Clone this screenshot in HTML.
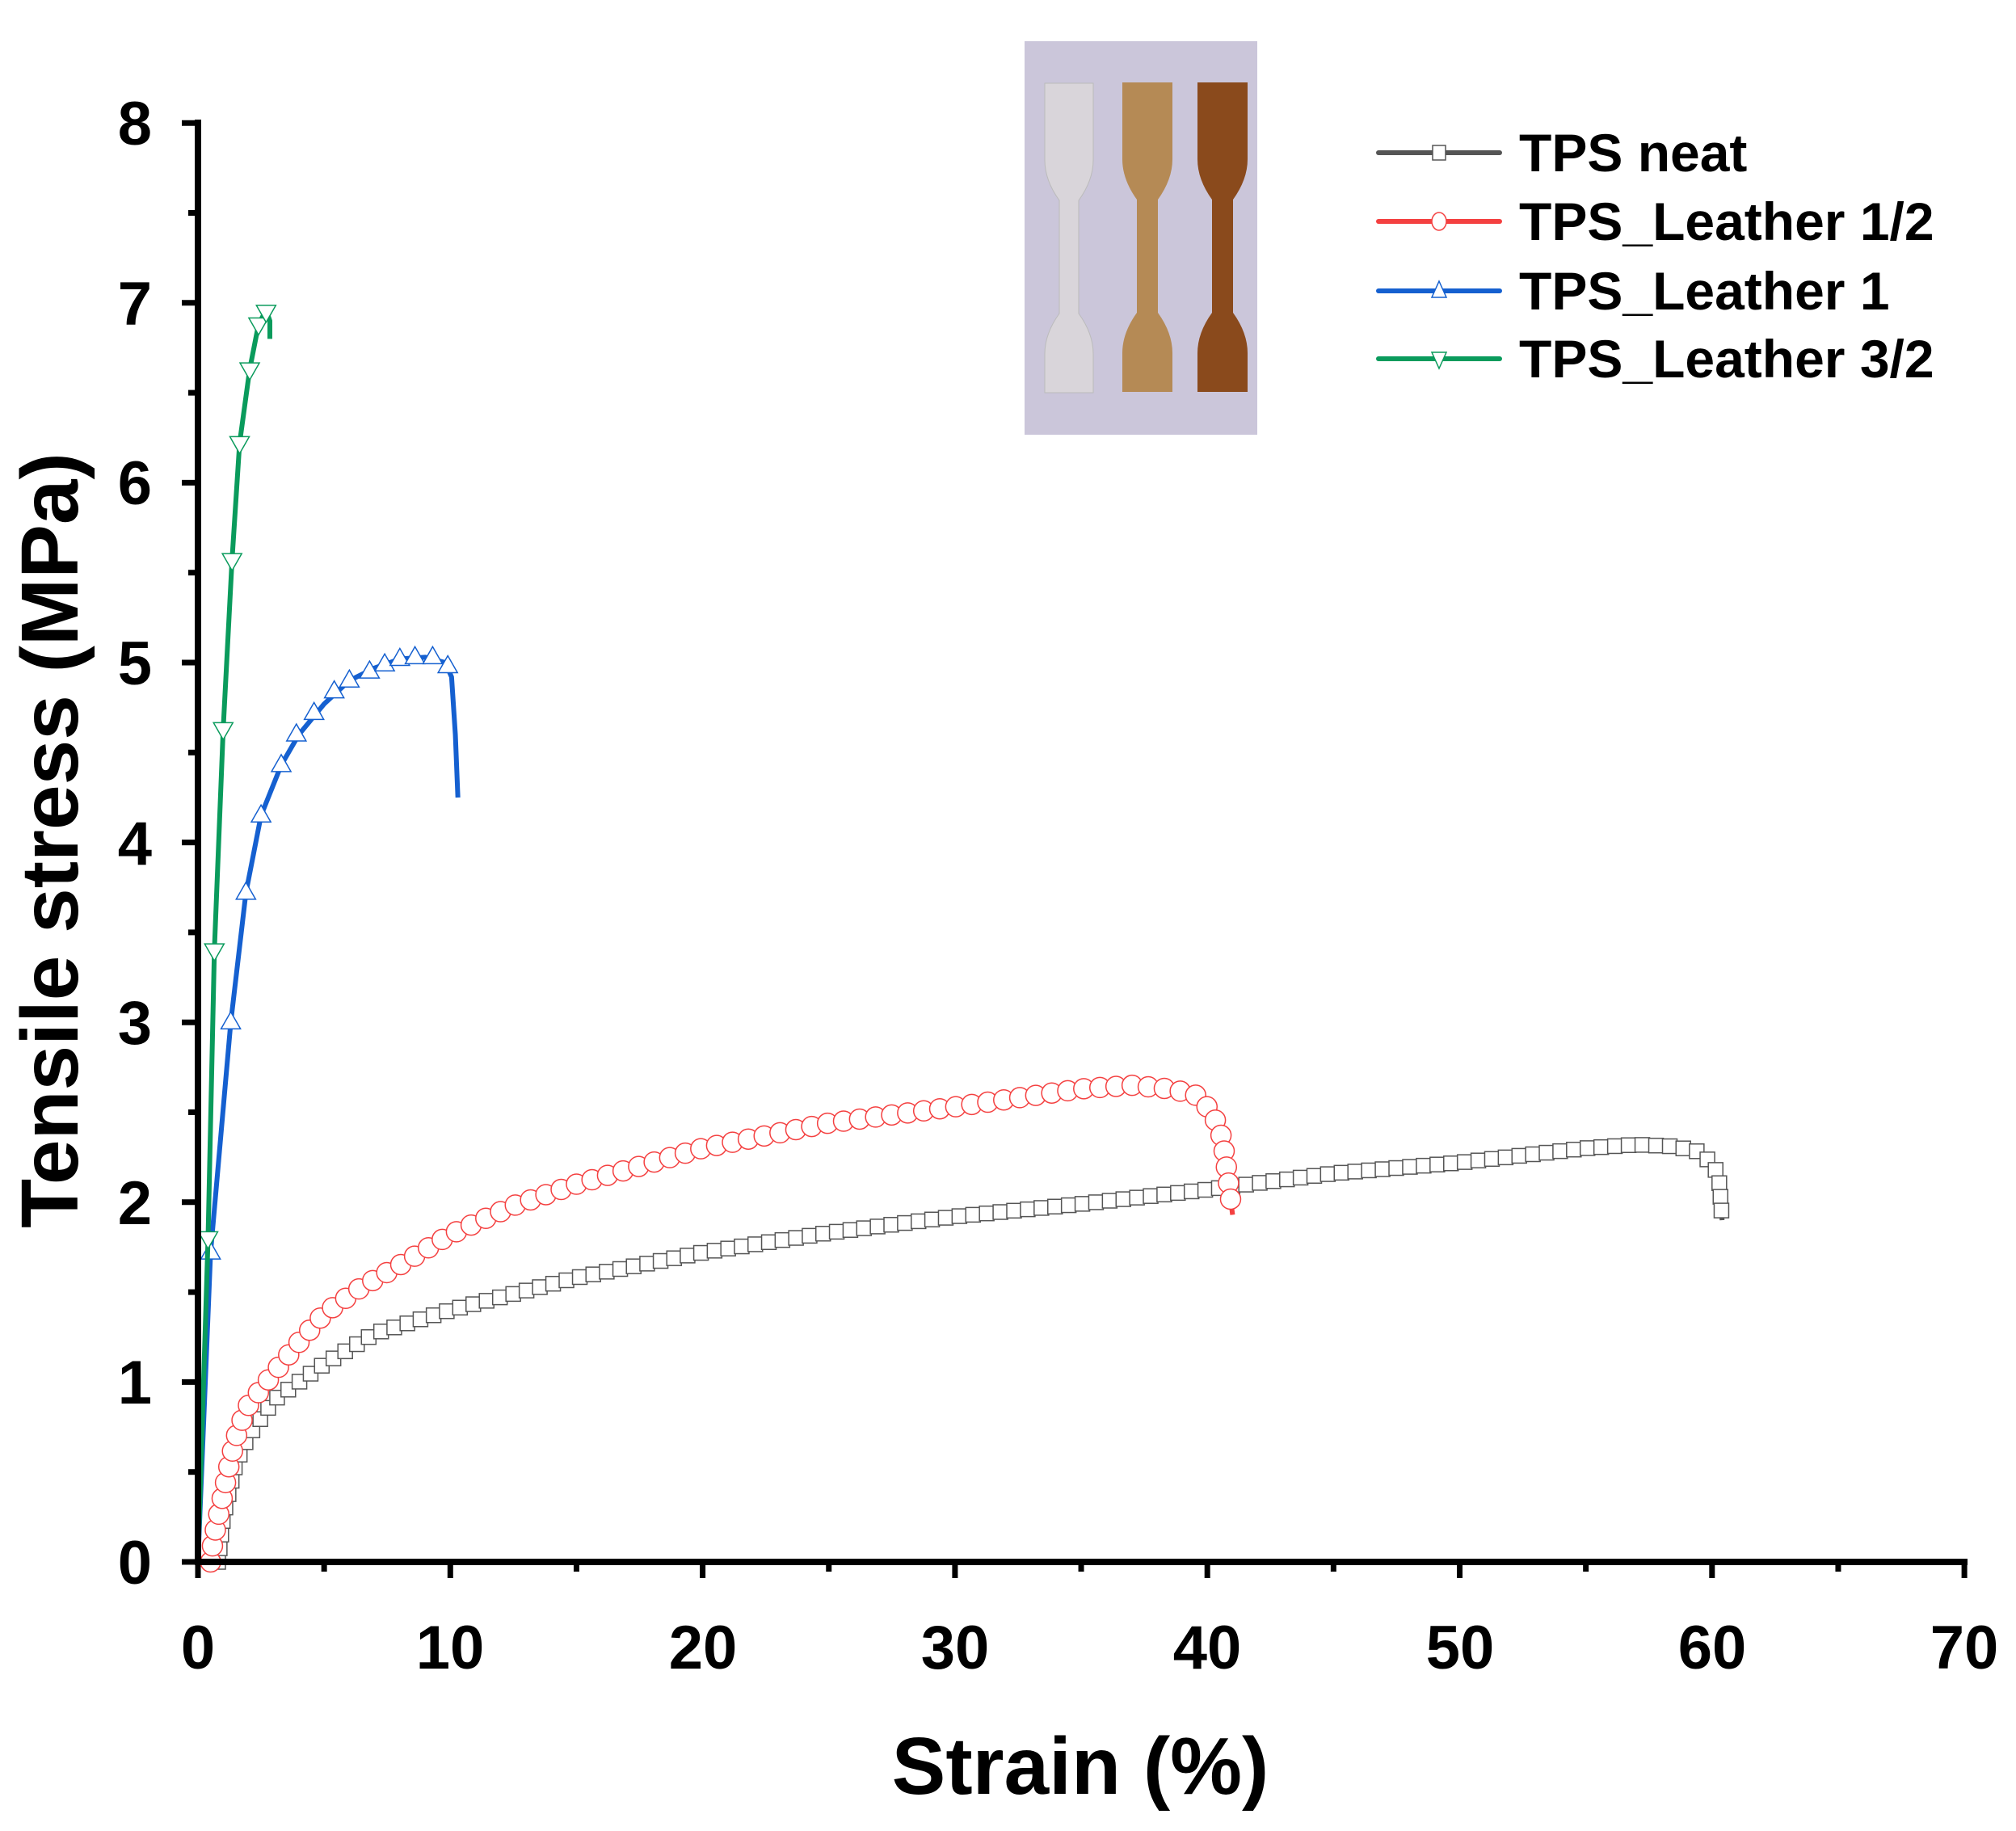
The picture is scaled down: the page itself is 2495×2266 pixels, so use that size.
<!DOCTYPE html>
<html><head><meta charset="utf-8"><style>
html,body{margin:0;padding:0;background:#fff;}
svg{display:block;font-family:"Liberation Sans",Arial,sans-serif;font-weight:bold;}
</style></head><body>
<svg id="s" width="2495" height="2266" viewBox="0 0 2495 2266" xmlns="http://www.w3.org/2000/svg">
<rect width="2495" height="2266" fill="#fff"/>
<g id="ticks"></g>
<g id="data"></g>
<line x1="245" y1="1933" x2="2435" y2="1933" stroke="#000" stroke-width="8"/>
<line x1="245" y1="148" x2="245" y2="1937" stroke="#000" stroke-width="8"/>
<g font-size="76" text-anchor="end">
<text x="188" y="1960">0</text><text x="188" y="1737">1</text><text x="188" y="1515">2</text><text x="188" y="1292">3</text><text x="188" y="1070">4</text><text x="188" y="847">5</text><text x="188" y="624">6</text><text x="188" y="402">7</text><text x="188" y="179">8</text>
</g>
<g font-size="76" text-anchor="middle">
<text x="245" y="2065">0</text><text x="557" y="2065">10</text><text x="870" y="2065">20</text><text x="1182" y="2065">30</text><text x="1494" y="2065">40</text><text x="1807" y="2065">50</text><text x="2119" y="2065">60</text><text x="2431" y="2065">70</text>
</g>
<text x="1337" y="2220" font-size="100" text-anchor="middle">Strain (%)</text>
<text transform="translate(96,1040) rotate(-90)" font-size="100" text-anchor="middle">Tensile stress (MPa)</text>
<!-- inset photo -->
<rect x="1268" y="51" width="288" height="487" fill="#cbc6da"/>
<g>
<path d="M1293 103 h60 v95 q0 25 -18 50 v140 q18 25 18 50 v48 h-60 v-48 q0 -25 18 -50 v-140 q-18 -25 -18 -50z" fill="#d9d5da" stroke="#bbb" stroke-width="1"/>
<path d="M1389 102 h62 v95 q0 25 -18 50 v140 q18 25 18 50 v48 h-62 v-48 q0 -25 18 -50 v-140 q-18 -25 -18 -50z" fill="#b58a55"/>
<path d="M1482 102 h62 v95 q0 25 -18 50 v140 q18 25 18 50 v48 h-62 v-48 q0 -25 18 -50 v-140 q-18 -25 -18 -50z" fill="#8a4a1c"/>
</g>
<!-- legend -->
<g stroke-width="6" stroke-linecap="round">
<line x1="1706" y1="189" x2="1856" y2="189" stroke="#555"/>
<line x1="1706" y1="274" x2="1856" y2="274" stroke="#f44040"/>
<line x1="1706" y1="360" x2="1856" y2="360" stroke="#1560d0"/>
<line x1="1706" y1="444" x2="1856" y2="444" stroke="#0a9b5c"/>
</g>
<rect x="1773" y="180" width="16" height="18" fill="#fff" stroke="#555" stroke-width="1.5"/>
<ellipse cx="1781" cy="274" rx="9" ry="11" fill="#fff" stroke="#f44040" stroke-width="1.5"/>
<path d="M1781 348 l9 20 h-18z" fill="#fff" stroke="#1560d0" stroke-width="1.5"/>
<path d="M1781 456 l9 -20 h-18z" fill="#fff" stroke="#0a9b5c" stroke-width="1.5"/>
<g font-size="66">
<text x="1880" y="212">TPS neat</text>
<text x="1880" y="297">TPS_Leather 1/2</text>
<text x="1880" y="383">TPS_Leather 1</text>
<text x="1880" y="467">TPS_Leather 3/2</text>
</g>
</svg>
<script>
var NS="http://www.w3.org/2000/svg";
function X(s){return 245+31.23*s;} function Y(v){return 1933-222.6*v;}
function el(p,n,a){var e=document.createElementNS(NS,n);for(var k in a)e.setAttribute(k,a[k]);p.appendChild(e);return e;}
var T=document.getElementById('ticks'),D=document.getElementById('data');
for(var i=0;i<=14;i++){var x=245+i*156.15;var L=(i%2==0)?20:12;el(T,'line',{x1:x,y1:1933,x2:x,y2:1933+L,stroke:'#000','stroke-width':7});}
for(var i=0;i<=16;i++){var y=1933-i*111.3;var L=(i%2==0)?20:12;el(T,'line',{x1:245,y1:y,x2:245-L,y2:y,stroke:'#000','stroke-width':7});}
var series=[
{c:'#555',m:'sq',sp:17,d:[[0.8,0],[1,0.25],[1.5,0.55],[2,0.7],[3,0.9],[5,1.1],[7,1.27],[10,1.4],[15,1.58],[20,1.72],[25,1.83],[30,1.92],[35,1.99],[40,2.07],[45,2.16],[50,2.22],[55,2.3],[57,2.32],[58.5,2.31],[59.5,2.28],[60.1,2.2],[60.3,2.1],[60.4,1.9]]},
{c:'#f44040',m:'ci',sp:20,d:[[0.5,0],[0.6,0.12],[1,0.38],[1.3,0.58],[1.6,0.74],[2,0.87],[3,1.05],[4,1.22],[5,1.38],[6.5,1.53],[8,1.65],[10,1.82],[12.5,1.98],[15,2.1],[20,2.3],[25,2.44],[30,2.53],[35,2.63],[37,2.65],[38.5,2.63],[39.5,2.6],[40.2,2.5],[40.6,2.35],[40.8,2.15],[41,1.93]]},
{c:'#1560d0',m:'up',pts:[[0.5,1.72],[1.3,3.0],[1.9,3.72],[2.5,4.15],[3.3,4.43],[3.9,4.6],[4.6,4.72],[5.4,4.84],[6,4.9],[6.8,4.95],[7.4,4.99],[8,5.02],[8.6,5.03],[9.3,5.03],[9.9,4.98]],d:[[0,0],[0.5,1.72],[1.3,3.0],[1.9,3.72],[2.5,4.15],[3.3,4.43],[4,4.6],[5,4.77],[6,4.9],[7,4.97],[8,5.02],[9,5.03],[9.8,5.0],[10.05,4.92],[10.2,4.6],[10.3,4.25]]},
{c:'#0a9b5c',m:'dn',pts:[[0.4,1.8],[0.65,3.4],[1.0,4.63],[1.35,5.57],[1.65,6.22],[2.05,6.63],[2.4,6.88],[2.7,6.95]],d:[[0,0],[0.4,1.8],[0.65,3.4],[1.0,4.63],[1.35,5.57],[1.65,6.22],[2.05,6.63],[2.4,6.88],[2.7,6.96],[2.85,6.9],[2.85,6.8]]}
];
function marker(s,x,y){var a={fill:'#fff',stroke:s.c,'stroke-width':1.5};
 if(s.m=='sq'){a.x=x-9;a.y=y-9;a.width=18;a.height=18;el(D,'rect',a);}
 else if(s.m=='ci'){a.cx=x;a.cy=y;a.r=12.5;el(D,'circle',a);}
 else if(s.m=='up'){a.d='M'+x+' '+(y-13)+' l12 21 h-24z';el(D,'path',a);}
 else {a.d='M'+x+' '+(y+13)+' l12 -21 h-24z';el(D,'path',a);}}
series.forEach(function(s){
 var P=s.d.map(function(p){return [X(p[0]),Y(p[1])];});
 el(D,'polyline',{points:P.map(function(p){return p.join(',');}).join(' '),fill:'none',stroke:s.c,'stroke-width':6,'stroke-linejoin':'round'});
 if(s.pts){s.pts.forEach(function(p){marker(s,X(p[0]),Y(p[1]));});}
 else{var acc=0;marker(s,P[0][0],P[0][1]);
  for(var i=1;i<P.length;i++){var dx=P[i][0]-P[i-1][0],dy=P[i][1]-P[i-1][1],l=Math.hypot(dx,dy),t=s.sp-acc;
   while(t<=l){marker(s,P[i-1][0]+dx*t/l,P[i-1][1]+dy*t/l);t+=s.sp;}acc=l-(t-s.sp);}
 }
});
</script>
</body></html>
